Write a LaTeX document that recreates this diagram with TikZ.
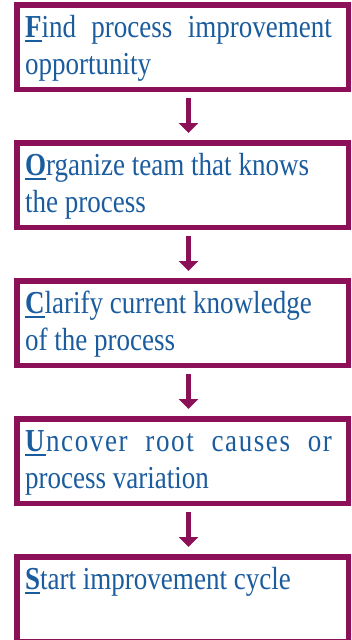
\documentclass[tikz,border=0pt]{standalone}
\usepackage{fontspec}
\setmainfont[FakeStretch=0.845]{Liberation Serif}
\usepackage{xcolor}
\usepackage{tikz}
\usetikzlibrary{
    positioning,
    arrows.meta
}

\definecolor{stageline}{RGB}{140,16,88}
\definecolor{stageblue}{RGB}{27,92,158}
\newcommand{\initial}[1]{\setbox0\hbox{\textbf{#1}}\rlap{\rule[-5pt]{\wd0}{1.8pt}}\box0}

\begin{document}
\begin{tikzpicture}[
    node distance=48pt,
    stage/.style={
        rectangle,
        draw=stageline,
        line width=5.5pt,
        outer sep=2.75pt,
        inner sep=0pt,
        minimum width=331.5pt,
        minimum height=84.5pt,
        text width=315pt,
        text height=32.25pt,
        text depth=52.25pt,
        align=justify,
        text=stageblue,
        font=\fontsize{32}{37}\selectfont,
        execute at begin node={\rightskip=8pt\relax}
    },
    arrow/.style={-{Triangle[length=10pt,width=19pt]}, line width=5pt,
        stageline, shorten <=6pt, shorten >=7pt}
]

\useasboundingbox (0,0) rectangle (352pt,-640pt);

\node[stage] (find) at (182.5pt,-47pt)
    {\initial{F}ind process improvement\linebreak opportunity};

\node[stage, below=of find] (organize)
    {\initial{O}rganize team that knows\\the process};

\node[stage, below=of organize] (clarify)
    {\initial{C}larify current knowledge\\of the process};

\node[stage, below=of clarify] (uncover)
    {{\addfontfeature{LetterSpace=5}\initial{U}ncover root causes or}\linebreak process variation};

\node[stage, below=of uncover] (start)
    {\initial{S}tart improvement cycle};

\draw[arrow] ([xshift=6pt]find.south) -- ([xshift=6pt]organize.north);
\draw[arrow] ([xshift=6pt]organize.south) -- ([xshift=6pt]clarify.north);
\draw[arrow] ([xshift=6pt]clarify.south) -- ([xshift=6pt]uncover.north);
\draw[arrow] ([xshift=6pt]uncover.south) -- ([xshift=6pt]start.north);

\end{tikzpicture}
\end{document}
